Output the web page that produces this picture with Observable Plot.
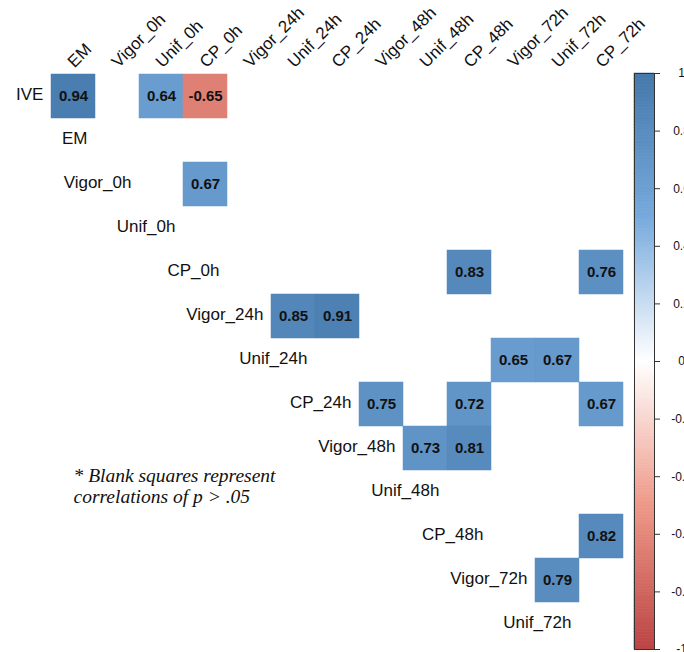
<!DOCTYPE html>
<html>
<head>
<meta charset="utf-8">
<script src="https://cdn.jsdelivr.net/npm/d3@7"></script>
<script src="https://cdn.jsdelivr.net/npm/@observablehq/plot@0.6"></script>
<style>
  html, body { margin: 0; padding: 0; background: #fff; }
  #wrap { position: relative; width: 684px; height: 652px; overflow: hidden; font-family: "Liberation Sans", Arial, sans-serif; }
  #wrap > div, #wrap > svg { position: absolute; }
</style>
</head>
<body>
<div id="wrap"></div>
<script>
// Row and column variables of the (upper-triangle) correlation matrix
const rowLabels = ["IVE","EM","Vigor_0h","Unif_0h","CP_0h","Vigor_24h","Unif_24h","CP_24h","Vigor_48h","Unif_48h","CP_48h","Vigor_72h","Unif_72h"];
const colLabels = ["EM","Vigor_0h","Unif_0h","CP_0h","Vigor_24h","Unif_24h","CP_24h","Vigor_48h","Unif_48h","CP_48h","Vigor_72h","Unif_72h","CP_72h"];

// Significant correlations only (blank = p > .05)
const sigRow = ["IVE","IVE","IVE","Vigor_0h","CP_0h","CP_0h","Vigor_24h","Vigor_24h","Unif_24h","Unif_24h","CP_24h","CP_24h","CP_24h","Vigor_48h","Vigor_48h","CP_48h","Vigor_72h"];
const sigCol = ["EM","Unif_0h","CP_0h","CP_0h","CP_48h","CP_72h","Unif_24h","CP_24h","Vigor_72h","Unif_72h","Vigor_48h","CP_48h","CP_72h","Unif_48h","CP_48h","CP_72h","Unif_72h"];
const sigValue = [0.94,0.64,-0.65,0.67,0.83,0.76,0.85,0.91,0.65,0.67,0.75,0.72,0.67,0.73,0.81,0.82,0.79];

// Colour legend ticks
const legendTicks = [1,0.8,0.6,0.4,0.2,0,-0.2,-0.4,-0.6,-0.8,-1];
const legendTickLabels = ["1","0.8","0.6","0.4","0.2","0","-0.2","-0.4","-0.6","-0.8","-1"];

const note = "* Blank squares represent\ncorrelations of p > .05";

const colorDomain = [-1,-0.5,0,0.5,1];
const colorRange = ["#BB4444","#EE9988","#FFFFFF","#77AADD","#4477AA"];

const cells = sigValue.map((v,i) => ({row: sigRow[i], col: sigCol[i], value: v}));
const rowLab = rowLabels.map((r,i) => ({row: r, col: colLabels[i]}));

const band = 575 / 13;

const main = Plot.plot({
  width: 684, height: 652,
  marginLeft: 49, marginRight: 60, marginTop: 72, marginBottom: 5,
  style: {fontFamily: "'Liberation Sans', Arial, sans-serif", background: "transparent"},
  x: {type: "band", domain: colLabels, padding: 0, axis: null},
  y: {type: "band", domain: rowLabels, padding: 0, axis: null},
  color: {type: "linear", domain: colorDomain, range: colorRange, interpolate: "rgb"},
  marks: [
    Plot.cell(cells, {x: "col", y: "row", fill: "value", stroke: "value", strokeWidth: 0.5, inset: 0}),
    Plot.text(cells, {x: "col", y: "row", text: d => d.value.toFixed(2), fontSize: 15, fontWeight: "bold", fill: "#111"}),
    Plot.text(rowLab, {x: "col", y: "row", text: "row", textAnchor: "end", dx: -band/2 - 8, dy: -1.5, fontSize: 17, fill: "#111"}),
    Plot.text(colLabels, {x: d => d, y: () => rowLabels[0], text: d => d, rotate: -45, textAnchor: "start", lineAnchor: "bottom", dx: 1, dy: -band/2 - 6, fontSize: 17, fill: "#111"}),
    Plot.text([note], {frameAnchor: "top-left", text: d => d, textAnchor: "start", lineAnchor: "top", dx: 24, dy: 395, fontSize: 19.5, lineHeight: 1.07, fontStyle: "italic", fontFamily: "'Liberation Serif', 'DejaVu Serif', serif", fill: "#111"})
  ]
});
main.style.left = "0px"; main.style.top = "0px";

const steps = d3.range(-1, 1, 0.01);
const legend = Plot.plot({
  width: 64, height: 652,
  marginLeft: 14, marginRight: 30, marginTop: 73, marginBottom: 3,
  style: {fontFamily: "'Liberation Sans', Arial, sans-serif", background: "transparent", overflow: "visible"},
  x: {domain: [0,1], axis: null},
  y: {domain: [-1,1], axis: null},
  color: {type: "linear", domain: colorDomain, range: colorRange, interpolate: "rgb"},
  marks: [
    Plot.rect(steps, {x1: 0, x2: 1, y1: d => d, y2: d => Math.min(1, d + 0.0105), fill: d => d + 0.005, stroke: d => d + 0.005, strokeWidth: 0.6}),
    Plot.frame({stroke: "#333", strokeWidth: 1}),
    Plot.ruleY(legendTicks, {x1: 1, x2: 1.3, stroke: "#333"}),
    Plot.text(legendTicks, {x: 1, y: d => d, text: (d,i) => legendTickLabels[i], dx: 27, textAnchor: "middle", fontSize: 12, fill: "#111"})
  ]
});
legend.style.left = "620px"; legend.style.top = "0px";

const wrap = document.getElementById("wrap");
wrap.appendChild(main);
wrap.appendChild(legend);
</script>
</body>
</html>
